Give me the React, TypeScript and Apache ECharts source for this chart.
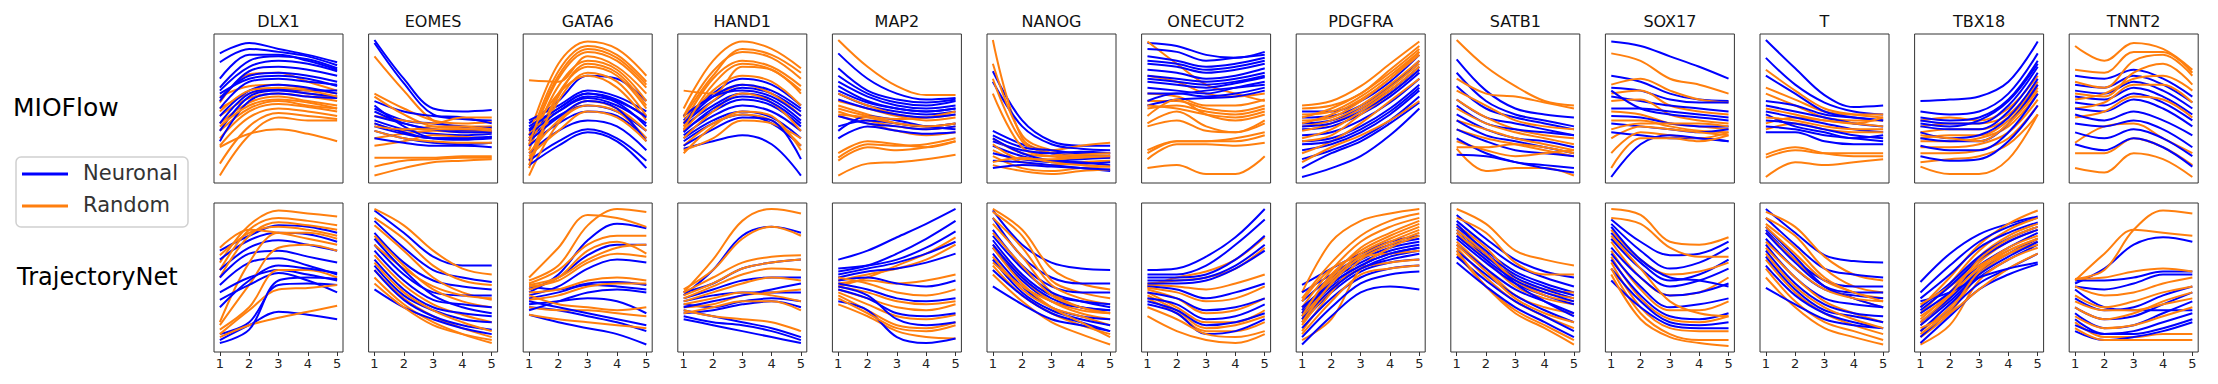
import React, { useEffect, useRef } from "react";
import * as echarts from "echarts";

// ---------- labels ----------
const GENES = ["DLX1", "EOMES", "GATA6", "HAND1", "MAP2", "NANOG", "ONECUT2", "PDGFRA", "SATB1", "SOX17", "T", "TBX18", "TNNT2"];
const METHODS = ["MIOFlow", "TrajectoryNet"];
const TIMEPOINTS = [1, 2, 3, 4, 5];
const LEGEND_LABELS = ["Neuronal", "Random"];

// ---------- data (relative expression, per trajectory, at timepoints 1..5) ----------
// MIOFlow row
const DLX1_MIO_N = [[87, 94, 90, 86, 81], [81, 90, 88, 85, 79], [64, 82, 85, 83, 77], [62, 78, 82, 80, 75], [57, 72, 74, 72, 68], [50, 68, 70, 68, 66], [45, 62, 66, 64, 60], [40, 60, 63, 62, 62], [35, 58, 62, 60, 58], [28, 55, 60, 58, 57], [60, 70, 72, 70, 65], [70, 86, 86, 82, 76], [55, 75, 78, 76, 72]];
const DLX1_MIO_R = [[58, 65, 66, 63, 60], [54, 73, 74, 68, 62], [50, 60, 63, 60, 57], [45, 57, 60, 58, 55], [40, 54, 58, 55, 52], [35, 50, 55, 52, 50], [30, 48, 53, 51, 48], [25, 44, 50, 48, 45], [13, 38, 47, 45, 43], [5, 32, 44, 42, 42], [24, 33, 36, 33, 28], [48, 62, 64, 62, 58], [38, 52, 56, 54, 50]];
const EOMES_MIO_N = [[96, 70, 50, 48, 49], [94, 67, 46, 43, 42], [55, 48, 45, 44, 40], [50, 42, 40, 38, 37], [45, 40, 36, 35, 35], [42, 36, 33, 32, 33], [38, 33, 30, 30, 31], [35, 30, 27, 26, 27], [30, 27, 25, 25, 24], [52, 38, 30, 29, 30], [48, 40, 36, 34, 34], [40, 34, 30, 30, 31]];
const EOMES_MIO_R = [[85, 62, 42, 38, 38], [60, 50, 42, 40, 41], [58, 46, 38, 37, 38], [45, 42, 40, 44, 44], [40, 35, 38, 38, 36], [30, 33, 35, 34, 34], [25, 28, 32, 31, 30], [11, 15, 16, 17, 17], [5, 10, 14, 15, 16], [17, 17, 17, 18, 18], [35, 30, 28, 27, 27], [38, 36, 36, 36, 35]];
const GATA6_MIO_N = [[40, 55, 72, 70, 55], [42, 52, 62, 58, 48], [38, 50, 60, 55, 45], [35, 48, 57, 52, 40], [30, 45, 52, 48, 35], [25, 40, 48, 45, 30], [20, 35, 42, 38, 22], [15, 28, 36, 30, 15], [12, 25, 34, 28, 10], [28, 44, 55, 50, 28], [36, 50, 60, 56, 44], [32, 48, 58, 54, 38]];
const GATA6_MIO_R = [[32, 80, 95, 90, 72], [28, 75, 92, 86, 68], [25, 70, 88, 82, 64], [69, 68, 85, 78, 60], [22, 65, 82, 76, 55], [15, 60, 78, 72, 50], [10, 55, 74, 68, 45], [5, 40, 52, 48, 30], [20, 42, 55, 50, 35], [30, 60, 72, 64, 42], [18, 35, 48, 44, 28], [26, 72, 90, 84, 66], [12, 58, 80, 74, 52]];
const HAND1_MIO_N = [[42, 60, 70, 66, 52], [40, 55, 64, 60, 48], [38, 52, 60, 56, 42], [35, 48, 56, 52, 38], [32, 45, 52, 48, 35], [30, 42, 48, 44, 30], [28, 40, 46, 40, 25], [23, 28, 32, 26, 5], [45, 58, 62, 58, 45], [25, 36, 44, 42, 16], [40, 58, 66, 62, 50], [34, 50, 58, 54, 40]];
const HAND1_MIO_R = [[50, 82, 95, 90, 77], [45, 75, 88, 84, 70], [40, 70, 82, 78, 65], [62, 60, 78, 76, 60], [38, 62, 72, 68, 52], [35, 55, 66, 60, 45], [30, 48, 60, 54, 35], [25, 40, 46, 42, 25], [22, 30, 42, 40, 30], [20, 38, 48, 45, 22], [44, 72, 90, 86, 74], [36, 66, 80, 76, 62]];
const MAP2_MIO_N = [[87, 70, 60, 56, 57], [77, 62, 56, 54, 56], [72, 60, 54, 52, 55], [68, 58, 52, 50, 52], [65, 55, 50, 48, 50], [60, 52, 48, 46, 48], [38, 42, 40, 38, 40], [35, 45, 42, 38, 36], [30, 38, 35, 33, 34], [45, 40, 38, 36, 38], [62, 54, 50, 48, 50], [56, 50, 46, 44, 46]];
const MAP2_MIO_R = [[96, 78, 65, 59, 59], [55, 50, 45, 42, 44], [52, 46, 40, 38, 40], [48, 42, 38, 36, 38], [45, 40, 35, 32, 34], [20, 28, 26, 24, 28], [17, 26, 25, 26, 30], [15, 24, 22, 24, 28], [5, 13, 14, 16, 19], [50, 45, 43, 44, 48], [60, 52, 46, 44, 46], [46, 44, 40, 38, 40]];
const NANOG_MIO_N = [[75, 42, 28, 25, 25], [68, 38, 26, 23, 22], [35, 26, 20, 18, 18], [32, 24, 22, 20, 20], [28, 22, 20, 21, 20], [25, 18, 15, 16, 17], [20, 16, 14, 13, 14], [15, 14, 12, 10, 8], [30, 20, 15, 14, 12], [10, 12, 11, 10, 9]];
const NANOG_MIO_R = [[96, 30, 22, 25, 27], [80, 32, 22, 20, 20], [70, 28, 20, 18, 18], [60, 24, 18, 17, 17], [30, 20, 18, 19, 20], [22, 14, 12, 14, 15], [18, 10, 8, 10, 11], [12, 8, 6, 8, 9], [26, 16, 16, 17, 18], [14, 17, 14, 12, 11]];
const ONECUT2_MIO_N = [[94, 92, 86, 84, 88], [90, 88, 82, 84, 86], [85, 82, 78, 80, 84], [80, 78, 74, 76, 80], [76, 74, 70, 72, 77], [72, 70, 68, 70, 74], [68, 66, 64, 67, 71], [64, 62, 60, 64, 68], [60, 60, 62, 64, 66], [55, 60, 58, 60, 64], [52, 56, 57, 58, 62], [82, 80, 76, 78, 82], [70, 68, 66, 68, 72]];
const ONECUT2_MIO_R = [[95, 80, 66, 60, 55], [72, 68, 60, 58, 60], [60, 58, 52, 52, 56], [55, 55, 50, 48, 52], [50, 52, 48, 46, 50], [40, 48, 38, 34, 42], [38, 42, 35, 34, 40], [22, 28, 28, 28, 32], [16, 26, 26, 25, 27], [10, 12, 6, 6, 18], [45, 56, 46, 42, 46], [52, 50, 46, 44, 48], [20, 28, 28, 30, 34]];
const PDGFRA_MIO_N = [[48, 48, 55, 68, 86], [44, 45, 52, 65, 82], [40, 42, 50, 62, 78], [36, 38, 46, 58, 74], [32, 34, 42, 54, 70], [28, 30, 38, 50, 66], [22, 26, 34, 46, 62], [16, 22, 30, 42, 58], [10, 20, 28, 40, 54], [4, 10, 18, 32, 50], [38, 40, 48, 60, 76], [26, 28, 36, 48, 64]];
const PDGFRA_MIO_R = [[52, 55, 65, 80, 95], [50, 52, 60, 76, 92], [46, 48, 58, 72, 88], [42, 44, 55, 70, 86], [38, 42, 52, 66, 82], [35, 40, 50, 64, 80], [28, 32, 46, 60, 76], [20, 28, 40, 55, 70], [14, 24, 32, 42, 55], [44, 50, 60, 74, 90], [40, 46, 56, 70, 88], [30, 36, 48, 62, 78]];
const SATB1_MIO_N = [[83, 62, 50, 46, 44], [74, 55, 46, 42, 38], [65, 50, 44, 40, 36], [56, 44, 40, 36, 32], [52, 40, 36, 34, 32], [46, 36, 30, 28, 24], [42, 32, 28, 24, 20], [36, 28, 22, 20, 18], [30, 20, 14, 12, 10], [19, 18, 14, 10, 7]];
const SATB1_MIO_R = [[96, 78, 65, 55, 52], [70, 60, 58, 54, 50], [62, 52, 42, 38, 36], [56, 44, 36, 32, 30], [50, 40, 34, 30, 26], [42, 36, 30, 26, 22], [36, 30, 26, 22, 18], [28, 22, 18, 20, 22], [23, 8, 10, 10, 5], [24, 24, 26, 24, 20]];
const SOX17_MIO_N = [[95, 92, 85, 78, 70], [72, 68, 60, 56, 55], [64, 62, 56, 54, 54], [58, 55, 52, 50, 48], [50, 50, 48, 46, 44], [45, 44, 40, 38, 38], [40, 38, 36, 34, 36], [34, 32, 30, 30, 28], [4, 26, 32, 30, 28], [62, 50, 46, 44, 42]];
const SOX17_MIO_R = [[87, 82, 70, 66, 60], [66, 70, 62, 56, 54], [60, 62, 52, 48, 46], [55, 56, 46, 42, 40], [48, 46, 40, 38, 36], [42, 42, 38, 35, 34], [30, 38, 36, 34, 32], [20, 34, 32, 30, 34], [10, 30, 30, 28, 32], [36, 40, 40, 40, 38]];
const T_MIO_N = [[96, 77, 59, 51, 52], [84, 66, 54, 48, 46], [72, 60, 48, 44, 42], [55, 52, 46, 44, 42], [52, 48, 44, 40, 38], [48, 44, 40, 36, 34], [42, 40, 36, 32, 30], [38, 36, 32, 30, 28], [34, 34, 28, 26, 26], [46, 38, 34, 30, 32]];
const T_MIO_R = [[76, 62, 50, 46, 44], [64, 56, 48, 46, 46], [60, 52, 44, 42, 42], [50, 46, 42, 40, 44], [40, 44, 42, 40, 38], [36, 40, 36, 34, 34], [19, 24, 20, 18, 18], [17, 22, 20, 20, 20], [4, 14, 12, 14, 16], [44, 42, 38, 36, 36]];
const TBX18_MIO_N = [[55, 56, 58, 68, 95], [48, 46, 48, 60, 87], [44, 42, 44, 56, 82], [42, 40, 40, 52, 78], [38, 36, 36, 48, 74], [34, 30, 32, 44, 70], [30, 28, 28, 40, 66], [25, 22, 22, 34, 60], [18, 15, 16, 28, 52], [40, 38, 42, 55, 80]];
const TBX18_MIO_R = [[42, 44, 42, 50, 72], [38, 40, 40, 46, 68], [34, 36, 36, 44, 66], [30, 32, 32, 42, 64], [28, 28, 30, 38, 60], [24, 24, 26, 34, 56], [20, 20, 22, 30, 52], [14, 16, 18, 26, 46], [11, 6, 6, 16, 46], [32, 30, 28, 40, 62]];
const TNNT2_MIO_N = [[72, 70, 76, 70, 58], [66, 64, 72, 66, 54], [62, 60, 68, 62, 50], [58, 56, 64, 58, 46], [54, 52, 60, 54, 42], [50, 48, 56, 50, 38], [46, 42, 48, 42, 32], [40, 38, 42, 36, 24], [26, 22, 30, 24, 11], [34, 30, 36, 30, 18]];
const TNNT2_MIO_R = [[92, 82, 94, 90, 76], [76, 74, 88, 88, 74], [68, 64, 82, 86, 72], [60, 58, 74, 80, 66], [50, 54, 66, 66, 54], [44, 48, 58, 56, 44], [27, 38, 40, 30, 20], [20, 20, 30, 24, 12], [10, 7, 20, 16, 4], [56, 60, 70, 72, 62]];

// TrajectoryNet row
const DLX1_TN_N = [[68, 78, 85, 84, 80], [62, 75, 80, 79, 74], [55, 70, 75, 72, 68], [50, 66, 68, 64, 60], [45, 60, 63, 58, 52], [40, 50, 55, 52, 48], [35, 45, 53, 48, 40], [12, 20, 45, 46, 45], [8, 18, 27, 25, 22], [6, 15, 48, 50, 49], [30, 48, 58, 56, 53]];
const DLX1_TN_R = [[60, 85, 95, 93, 91], [55, 82, 90, 88, 85], [50, 78, 87, 85, 82], [65, 80, 84, 82, 78], [20, 60, 80, 80, 76], [18, 45, 70, 72, 68], [15, 30, 55, 55, 50], [12, 28, 42, 43, 45], [10, 18, 23, 27, 31], [70, 82, 80, 76, 72]];
const EOMES_TN_N = [[95, 80, 64, 58, 58], [88, 70, 55, 50, 47], [80, 60, 48, 44, 42], [72, 52, 40, 38, 38], [68, 48, 35, 32, 30], [62, 42, 30, 26, 24], [58, 38, 28, 22, 20], [55, 35, 24, 18, 15], [42, 30, 22, 16, 12], [76, 55, 38, 30, 26]];
const EOMES_TN_R = [[96, 85, 68, 56, 52], [90, 76, 58, 48, 45], [85, 68, 50, 40, 35], [78, 58, 42, 34, 30], [65, 45, 32, 25, 20], [55, 36, 24, 16, 10], [50, 32, 20, 12, 6], [60, 40, 28, 20, 14], [72, 56, 44, 38, 36], [46, 30, 18, 12, 8]];
const GATA6_TN_N = [[40, 52, 75, 86, 83], [42, 50, 65, 72, 72], [38, 44, 56, 62, 60], [44, 42, 46, 47, 45], [36, 40, 45, 44, 42], [32, 34, 36, 34, 26], [30, 28, 24, 20, 14], [25, 20, 16, 12, 5], [34, 30, 26, 22, 18], [28, 34, 40, 42, 40]];
const GATA6_TN_R = [[48, 58, 85, 96, 94], [50, 70, 92, 90, 84], [46, 55, 72, 78, 78], [45, 50, 62, 70, 72], [44, 48, 60, 66, 64], [40, 42, 48, 50, 48], [35, 38, 44, 46, 46], [30, 28, 28, 26, 24], [25, 22, 20, 18, 16], [38, 32, 30, 28, 30], [42, 50, 68, 74, 66]];
const HAND1_TN_N = [[38, 55, 78, 84, 80], [40, 46, 56, 60, 62], [36, 42, 48, 50, 50], [34, 38, 40, 40, 40], [32, 30, 34, 36, 34], [28, 24, 20, 16, 10], [22, 18, 14, 10, 6], [26, 28, 32, 34, 30], [30, 34, 38, 42, 46], [24, 20, 18, 14, 8]];
const HAND1_TN_R = [[40, 62, 88, 96, 93], [42, 55, 76, 84, 78], [40, 50, 60, 64, 65], [38, 46, 56, 60, 62], [36, 44, 52, 56, 55], [34, 40, 46, 50, 48], [30, 32, 38, 40, 42], [28, 24, 22, 20, 14], [32, 36, 40, 38, 34], [26, 30, 34, 34, 28]];
const MAP2_TN_N = [[62, 68, 77, 86, 96], [54, 58, 66, 76, 88], [56, 58, 62, 70, 81], [52, 56, 60, 66, 74], [50, 54, 56, 60, 66], [48, 50, 46, 44, 48], [46, 42, 36, 34, 36], [42, 36, 26, 24, 26], [34, 28, 10, 6, 9], [44, 38, 22, 18, 20]];
const MAP2_TN_R = [[44, 50, 58, 66, 77], [48, 52, 56, 62, 72], [46, 48, 46, 48, 52], [44, 40, 34, 32, 34], [42, 36, 30, 28, 32], [40, 32, 24, 22, 25], [38, 28, 18, 16, 20], [32, 24, 14, 10, 9], [36, 26, 16, 14, 18], [50, 46, 40, 38, 42]];
const NANOG_TN_N = [[95, 72, 60, 56, 55], [90, 64, 50, 46, 46], [82, 58, 44, 40, 40], [75, 52, 38, 34, 32], [70, 48, 34, 30, 28], [66, 44, 30, 24, 22], [62, 40, 28, 22, 18], [55, 38, 26, 20, 14], [44, 32, 22, 18, 14], [78, 56, 40, 34, 30], [72, 50, 36, 30, 28]];
const NANOG_TN_R = [[96, 82, 56, 46, 42], [94, 78, 48, 40, 36], [90, 70, 45, 36, 32], [86, 64, 40, 30, 26], [72, 50, 34, 26, 22], [64, 42, 30, 24, 18], [58, 38, 26, 18, 12], [52, 34, 20, 12, 5], [70, 46, 30, 20, 10], [60, 44, 34, 28, 26], [80, 58, 38, 30, 26]];
const ONECUT2_TN_N = [[55, 56, 64, 77, 96], [52, 52, 58, 72, 89], [50, 50, 52, 62, 78], [48, 48, 50, 58, 72], [46, 46, 48, 56, 68], [44, 42, 36, 40, 46], [40, 36, 28, 30, 36], [32, 26, 12, 14, 22], [36, 32, 22, 24, 32], [34, 28, 18, 20, 26]];
const ONECUT2_TN_R = [[44, 50, 54, 62, 77], [46, 48, 50, 56, 70], [45, 44, 42, 46, 52], [42, 36, 26, 28, 36], [40, 30, 20, 20, 28], [38, 28, 16, 18, 24], [36, 26, 14, 14, 20], [24, 14, 8, 6, 12], [30, 22, 12, 10, 14], [43, 40, 34, 36, 44]];
const PDGFRA_TN_N = [[45, 56, 66, 74, 78], [40, 52, 64, 72, 76], [34, 50, 62, 70, 74], [28, 48, 60, 68, 72], [24, 44, 56, 64, 68], [20, 40, 54, 60, 62], [16, 36, 50, 56, 58], [10, 30, 46, 52, 54], [5, 24, 40, 44, 42], [30, 46, 58, 66, 70], [26, 46, 58, 66, 70], [22, 42, 56, 62, 66]];
const PDGFRA_TN_R = [[40, 74, 88, 93, 96], [36, 60, 78, 88, 93], [30, 55, 74, 84, 90], [26, 50, 70, 80, 88], [22, 48, 66, 76, 84], [14, 40, 62, 72, 80], [8, 22, 56, 70, 78], [18, 42, 56, 60, 62], [12, 34, 52, 56, 58], [34, 56, 64, 66, 68], [24, 52, 68, 78, 86], [20, 46, 64, 74, 82]];
const SATB1_TN_N = [[92, 76, 62, 54, 50], [88, 72, 58, 50, 44], [84, 68, 54, 46, 40], [80, 64, 50, 42, 36], [76, 60, 46, 38, 32], [72, 56, 42, 34, 26], [68, 52, 38, 28, 20], [64, 48, 34, 24, 14], [60, 44, 30, 20, 10], [86, 66, 46, 34, 24], [82, 66, 52, 44, 38], [78, 62, 48, 40, 34]];
const SATB1_TN_R = [[96, 86, 68, 62, 58], [90, 80, 60, 52, 52], [85, 70, 50, 42, 40], [80, 62, 44, 36, 32], [74, 56, 38, 30, 26], [70, 50, 34, 24, 16], [66, 44, 28, 18, 8], [68, 44, 26, 16, 5], [78, 66, 48, 38, 34], [72, 54, 36, 26, 20], [82, 66, 48, 40, 36]];
const SOX17_TN_N = [[89, 74, 65, 66, 74], [86, 68, 56, 60, 70], [80, 60, 48, 52, 62], [76, 56, 44, 48, 56], [70, 50, 38, 40, 46], [66, 44, 30, 32, 36], [62, 38, 24, 22, 26], [56, 34, 20, 18, 20], [48, 30, 18, 16, 16], [84, 62, 50, 48, 44]];
const SOX17_TN_R = [[96, 92, 74, 72, 77], [90, 86, 70, 64, 64], [82, 62, 52, 54, 60], [74, 50, 38, 40, 50], [68, 42, 28, 28, 34], [64, 36, 22, 20, 24], [60, 30, 16, 14, 14], [56, 26, 12, 8, 8], [52, 22, 10, 6, 4], [78, 56, 34, 26, 24]];
const T_TN_N = [[96, 80, 65, 61, 60], [90, 72, 56, 52, 50], [82, 62, 48, 44, 44], [76, 56, 42, 38, 36], [72, 50, 36, 32, 30], [68, 46, 32, 26, 24], [64, 42, 28, 24, 20], [58, 38, 26, 20, 16], [43, 32, 22, 18, 16], [84, 64, 44, 36, 30], [80, 60, 44, 40, 40]];
const T_TN_R = [[94, 84, 64, 52, 48], [90, 78, 56, 44, 40], [86, 70, 50, 40, 36], [80, 62, 44, 36, 30], [70, 50, 34, 26, 20], [62, 40, 26, 18, 12], [56, 34, 20, 14, 8], [50, 30, 16, 10, 5], [66, 44, 30, 22, 16], [74, 56, 42, 36, 34], [84, 66, 48, 40, 34]];
const TBX18_TN_N = [[47, 66, 79, 86, 91], [40, 58, 74, 84, 90], [36, 52, 70, 80, 87], [30, 46, 64, 76, 84], [26, 40, 58, 70, 80], [20, 36, 54, 66, 76], [14, 32, 50, 62, 72], [10, 28, 46, 56, 66], [6, 24, 42, 52, 59], [34, 40, 50, 56, 60], [28, 44, 62, 74, 82], [18, 34, 52, 64, 74]];
const TBX18_TN_R = [[30, 50, 72, 86, 95], [26, 46, 68, 82, 90], [22, 40, 64, 78, 86], [18, 36, 60, 74, 82], [14, 30, 56, 70, 78], [10, 26, 52, 66, 74], [5, 18, 48, 62, 70], [24, 38, 56, 66, 72], [16, 26, 42, 56, 66], [32, 44, 58, 68, 76], [20, 38, 62, 76, 84], [12, 28, 54, 68, 76]];
const TNNT2_TN_N = [[46, 56, 72, 77, 74], [48, 48, 50, 54, 54], [44, 42, 46, 52, 52], [42, 30, 28, 28, 28], [36, 28, 30, 38, 44], [30, 22, 24, 32, 40], [26, 16, 18, 26, 34], [22, 12, 14, 20, 26], [14, 8, 10, 14, 20], [18, 12, 12, 16, 22]];
const TNNT2_TN_R = [[49, 55, 82, 95, 93], [48, 66, 82, 80, 78], [49, 50, 54, 56, 54], [44, 38, 40, 46, 50], [38, 30, 34, 40, 44], [30, 22, 26, 34, 40], [24, 16, 18, 24, 30], [20, 10, 10, 12, 12], [16, 8, 8, 8, 8], [34, 28, 28, 32, 36]];

const MIO_NEURONAL = [DLX1_MIO_N, EOMES_MIO_N, GATA6_MIO_N, HAND1_MIO_N, MAP2_MIO_N, NANOG_MIO_N, ONECUT2_MIO_N, PDGFRA_MIO_N, SATB1_MIO_N, SOX17_MIO_N, T_MIO_N, TBX18_MIO_N, TNNT2_MIO_N];
const MIO_RANDOM = [DLX1_MIO_R, EOMES_MIO_R, GATA6_MIO_R, HAND1_MIO_R, MAP2_MIO_R, NANOG_MIO_R, ONECUT2_MIO_R, PDGFRA_MIO_R, SATB1_MIO_R, SOX17_MIO_R, T_MIO_R, TBX18_MIO_R, TNNT2_MIO_R];
const TN_NEURONAL = [DLX1_TN_N, EOMES_TN_N, GATA6_TN_N, HAND1_TN_N, MAP2_TN_N, NANOG_TN_N, ONECUT2_TN_N, PDGFRA_TN_N, SATB1_TN_N, SOX17_TN_N, T_TN_N, TBX18_TN_N, TNNT2_TN_N];
const TN_RANDOM = [DLX1_TN_R, EOMES_TN_R, GATA6_TN_R, HAND1_TN_R, MAP2_TN_R, NANOG_TN_R, ONECUT2_TN_R, PDGFRA_TN_R, SATB1_TN_R, SOX17_TN_R, T_TN_R, TBX18_TN_R, TNNT2_TN_R];

const BLUE = "#0000ff";
const ORANGE = "#ff7f0e";
const FONT = "DejaVu Sans";

export default function App() {
  const ref = useRef<HTMLDivElement>(null);
  useEffect(() => {
    if (!ref.current) return;
    const chart = echarts.init(ref.current, null, { renderer: "svg" });
    const rows = [
      { blue: MIO_NEURONAL, orange: MIO_RANDOM, top: 34 },
      { blue: TN_NEURONAL, orange: TN_RANDOM, top: 203 },
    ];
    const grids: any[] = [];
    const xAxes: any[] = [];
    const yAxes: any[] = [];
    const series: any[] = [];
    const graphics: any[] = [];
    const mk = (vals: number[], color: string, idx: number) => ({
      type: "line",
      xAxisIndex: idx,
      yAxisIndex: idx,
      data: vals.map((v, i) => [TIMEPOINTS[i], v]),
      smooth: 0.35,
      showSymbol: false,
      silent: true,
      lineStyle: { color, width: 2 },
    });
    rows.forEach((row, r) => {
      GENES.forEach((gene, c) => {
        const idx = r * GENES.length + c;
        const left = 214 + 154.6 * c;
        grids.push({
          left,
          top: row.top,
          width: 129,
          height: 149,
          show: true,
          borderColor: "#333",
          borderWidth: 1,
          backgroundColor: "#fff",
        });
        xAxes.push({
          gridIndex: idx,
          type: "value",
          min: 0.8,
          max: 5.2,
          axisLine: { show: false },
          splitLine: { show: false },
          axisTick: { show: r === 1, customValues: TIMEPOINTS, length: 4, lineStyle: { color: "#333" } },
          axisLabel: { show: r === 1, customValues: TIMEPOINTS, fontSize: 13, color: "#222", margin: 5, fontFamily: FONT },
        });
        yAxes.push({ gridIndex: idx, type: "value", min: 0, max: 100, show: false });
        const n = row.blue[c];
        const o = row.orange[c];
        const m = Math.max(n.length, o.length);
        for (let k = 0; k < m; k++) {
          if (n[k]) series.push(mk(n[k], BLUE, idx));
          if (o[k]) series.push(mk(o[k], ORANGE, idx));
        }
        if (r === 0) {
          graphics.push({
            type: "text",
            x: left + 64.5,
            y: 21,
            style: { text: gene, font: `16px ${FONT}`, fill: "#111", textAlign: "center", textVerticalAlign: "middle" },
          });
        }
      });
    });
    graphics.push(
      { type: "text", x: 13, y: 107, style: { text: METHODS[0], font: `25px ${FONT}`, fill: "#000", textAlign: "left", textVerticalAlign: "middle" } },
      { type: "text", x: 17, y: 277, style: { text: METHODS[1], font: `24px ${FONT}`, fill: "#000", textAlign: "left", textVerticalAlign: "middle" } },
      { type: "rect", shape: { x: 16, y: 157, width: 172, height: 70, r: 5 }, style: { fill: "#fff", stroke: "#d0d0d0", lineWidth: 1.5 } },
      { type: "line", shape: { x1: 22, y1: 174, x2: 68, y2: 174 }, style: { stroke: BLUE, lineWidth: 3 } },
      { type: "line", shape: { x1: 22, y1: 206, x2: 68, y2: 206 }, style: { stroke: ORANGE, lineWidth: 3 } },
      { type: "text", x: 83, y: 173, style: { text: LEGEND_LABELS[0], font: `21px ${FONT}`, fill: "#333", textAlign: "left", textVerticalAlign: "middle" } },
      { type: "text", x: 83, y: 205, style: { text: LEGEND_LABELS[1], font: `21px ${FONT}`, fill: "#333", textAlign: "left", textVerticalAlign: "middle" } }
    );
    chart.setOption({
      animation: false,
      backgroundColor: "#fff",
      grid: grids,
      xAxis: xAxes,
      yAxis: yAxes,
      series,
      graphic: graphics,
    });
    return () => chart.dispose();
  }, []);
  return <div ref={ref} style={{ position: "fixed", left: 0, top: 0, width: 2218, height: 384, background: "#fff" }} />;
}
